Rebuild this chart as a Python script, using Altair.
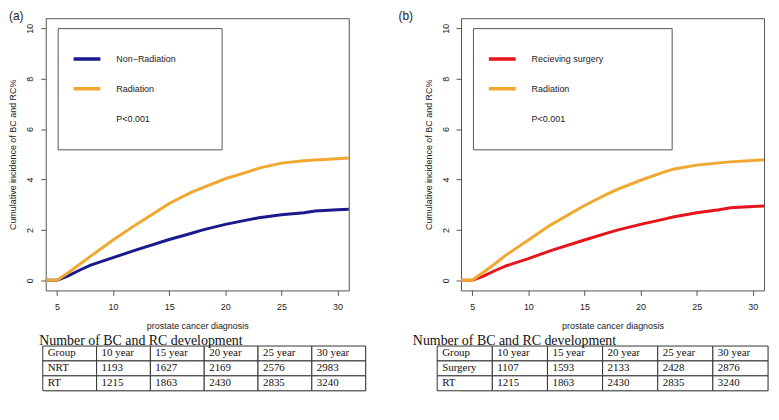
import altair as alt
import pandas as pd

# ---------------- data ----------------
years = [4, 5, 6, 7, 8, 10, 12, 15, 17, 18, 20, 22, 23, 25, 27, 28, 30, 31]

# panel (a)
a_non_radiation = [0, 0, 0.18, 0.40, 0.60, 0.90, 1.20, 1.62, 1.87, 2.00, 2.22, 2.40, 2.48, 2.60, 2.68, 2.75, 2.80, 2.82]
a_radiation = [0, 0, 0.30, 0.63, 0.96, 1.60, 2.20, 3.05, 3.50, 3.68, 4.03, 4.30, 4.45, 4.65, 4.74, 4.77, 4.82, 4.85]

# panel (b)
b_surgery = [0, 0, 0.17, 0.38, 0.57, 0.86, 1.18, 1.60, 1.87, 2.00, 2.22, 2.42, 2.52, 2.68, 2.80, 2.88, 2.93, 2.95]
b_radiation = [0, 0, 0.32, 0.65, 1.00, 1.60, 2.20, 2.97, 3.42, 3.62, 3.97, 4.28, 4.42, 4.57, 4.66, 4.70, 4.75, 4.78]

# tables
table_header = ["Group", "10 year", "15 year", "20 year", "25 year", "30 year"]
nrt_counts = [1193, 1627, 2169, 2576, 2983]
rt_counts = [1215, 1863, 2430, 2835, 3240]
surgery_counts = [1107, 1593, 2133, 2428, 2876]

x_ticks = [5, 10, 15, 20, 25, 30]
y_ticks = [0, 2, 4, 6, 8, 10]

NAVY = "#1a1a8c"
ORANGE = "#f0a830"
RED = "#e8141c"
BOX = "#555555"
SANS = "Liberation Sans"
SERIF = "Liberation Serif"

NBSP = "\u00a0"
ZWSP = "\u200b"  # keeps the padding from being trimmed


def curve_panel(series_a_name, series_a_vals, series_a_color, series_b_vals, tag, pad_spaces, title_dx):
    rows = []
    for x, v in zip(years, series_a_vals):
        rows.append({"t": x, "v": v, "g": series_a_name})
    for x, v in zip(years, series_b_vals):
        rows.append({"t": x, "v": v, "g": "Radiation"})
    df = pd.DataFrame(rows)
    domain = [series_a_name, "Radiation", "P<0.001"]
    rng = [series_a_color, ORANGE, "transparent"]
    chart = alt.Chart(df).mark_line(strokeWidth=3, interpolate="linear").encode(
        x=alt.X("t:Q",
                scale=alt.Scale(domain=[4, 31], nice=False, zero=False),
                axis=alt.Axis(values=x_ticks, title="prostate cancer diagnosis",
                              grid=False, domain=False, tickSize=5, tickColor=BOX,
                              labelFontSize=9, labelFont=SANS, labelColor="#222",
                              labelPadding=7, titleFont=SANS, titleFontSize=9,
                              titleFontWeight="normal", titleColor="#222",
                              titlePadding=10)),
        y=alt.Y("v:Q",
                scale=alt.Scale(domain=[-0.4, 10.4], nice=False, zero=False),
                axis=alt.Axis(values=y_ticks, title="Cumulative incidence of BC and RC%",
                              grid=False, domain=False, tickSize=5, tickColor=BOX,
                              labelFontSize=9, labelFont=SANS, labelColor="#222",
                              labelAngle=-90, labelAlign="center", labelBaseline="bottom",
                              labelPadding=6, titleFont=SANS, titleFontSize=9,
                              titleFontWeight="normal", titleColor="#222",
                              titlePadding=8)),
        color=alt.Color("g:N", sort=domain,
                        scale=alt.Scale(domain=domain, range=rng),
                        legend=alt.Legend(orient="none", legendX=12, legendY=10,
                                          title=None, symbolType="stroke",
                                          symbolSize=961, symbolStrokeWidth=3.5,
                                          symbolOffset=-6,
                                          labelFont=SANS, labelFontSize=9,
                                          labelColor="#222", labelOffset=14,
                                          labelLimit=1000,
                                          clipHeight=30, rowPadding=0, padding=16,
                                          strokeColor=BOX, fillColor="white",
                                          labelExpr="datum.label + '" + NBSP * pad_spaces + ZWSP + "'")),
    ).properties(
        width=305, height=274,
        title=alt.TitleParams(tag, anchor="start", font=SANS, fontSize=12,
                              fontWeight="normal", color="#222", offset=-5, dx=title_dx),
        view=alt.ViewBackground(stroke=BOX, strokeWidth=1),
    )
    return chart


def table_panel(group_name, counts, range_start, width):
    rows = []
    all_rows = [("Group", table_header[1:]), (group_name, [str(c) for c in counts]), ("RT", [str(c) for c in rt_counts])]
    row_order = [r[0] for r in all_rows]
    for name, vals in all_rows:
        cells = [name] + list(vals)
        for c_i, txt in enumerate(cells):
            rows.append({"row": name, "col": c_i, "txt": txt})
    df = pd.DataFrame(rows)
    xscale = alt.Scale(range=[range_start, range_start + width], paddingInner=0, paddingOuter=0)
    yenc = alt.Y("row:O", sort=row_order, axis=None,
                 scale=alt.Scale(paddingInner=0, paddingOuter=0))
    rect = alt.Chart(df).mark_rect(fill="white", stroke="#333", strokeWidth=1).encode(
        x=alt.X("col:O", axis=None, scale=xscale), y=yenc)
    text = alt.Chart(df).mark_text(align="left", baseline="middle", dx=5, font=SERIF,
                                   fontSize=11, color="#111").encode(
        x=alt.X("col:O", axis=None, bandPosition=0, scale=xscale),
        y=yenc, text="txt:N")
    return (rect + text).properties(
        width=width + range_start, height=45,
        title=alt.TitleParams("Number of BC and RC development", anchor="start",
                              font=SERIF, fontSize=14, fontWeight="normal",
                              color="#111", dx=range_start, offset=-2),
    )


plot_a = curve_panel("Non\u2212Radiation", a_non_radiation, NAVY, a_radiation, "(a)", 12, 0)
plot_b = curve_panel("Recieving surgery", b_surgery, RED, b_radiation, "(b)", 21, -26)
table_a = table_panel("NRT", nrt_counts, -3, 325)
table_b = table_panel("Surgery", surgery_counts, -24, 333)

col_a = alt.vconcat(plot_a, table_a, spacing=2).resolve_scale(color="independent")
col_b = alt.vconcat(plot_b, table_b, spacing=2).resolve_scale(color="independent")

chart = alt.hconcat(col_a, col_b, spacing=31).resolve_scale(color="independent").properties(
    padding=0
).configure_view(stroke=None).configure(background="white")

chart.save("out.html", embed_options={"renderer": "svg", "actions": False})
